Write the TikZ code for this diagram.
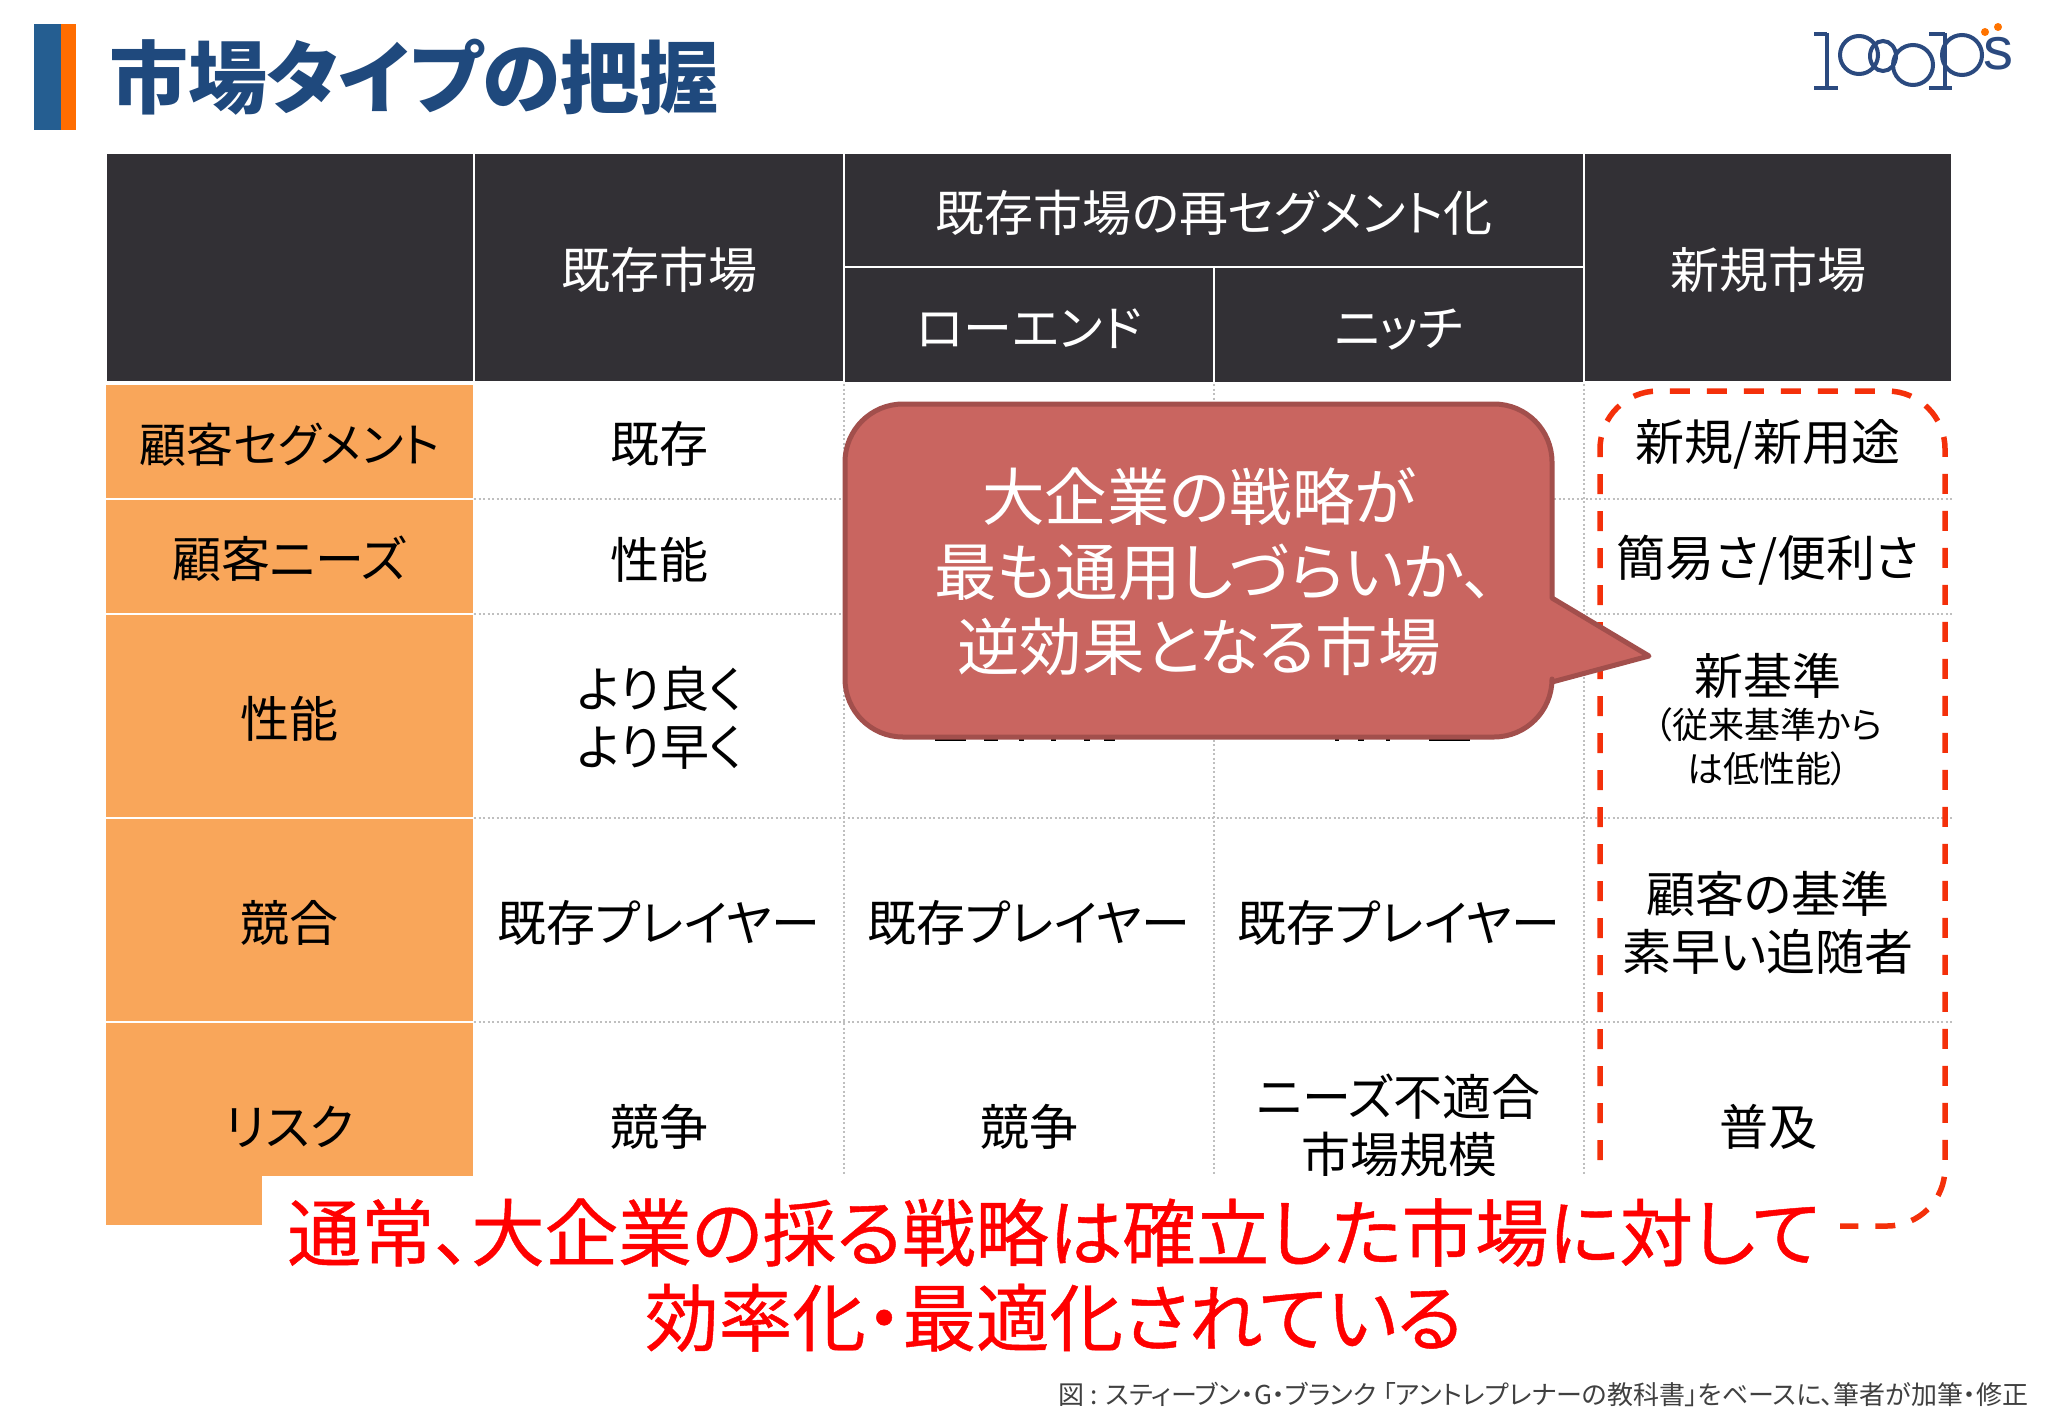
\documentclass[tikz,border=0pt]{standalone}
\usepackage{fontspec}
\setmainfont{Noto Sans CJK JP}[RawFeature=+palt]
\newfontfamily\redfont{Noto Sans CJK JP}[RawFeature=+palt, FakeBold=0.6]
\newfontfamily\logofont{Liberation Sans}
\definecolor{titleblue}{HTML}{1F497D}
\definecolor{barblue}{HTML}{255E91}
\definecolor{barorange}{HTML}{FF6D00}
\definecolor{headdark}{HTML}{323035}
\definecolor{sideorange}{HTML}{F9A65A}
\definecolor{dashred}{HTML}{F4300A}
\definecolor{bubblefill}{HTML}{C96560}
\definecolor{bubbleline}{HTML}{A24F4C}
\definecolor{logoblue}{HTML}{2B4A7F}
\begin{document}
\begin{tikzpicture}[x=1pt, y=-1pt,
    every node/.style = {align=center, inner sep=0pt, outer sep=0pt,
      font=\fontsize{49}{58}\selectfont},
    headcell/.style = {fill=headdark, draw=white, line width=1.5pt,
      text=white, minimum width=#1, text height=49pt, text depth=7pt},
    sidecell/.style = {fill=sideorange, draw=white, line width=1.5pt,
      minimum width=369pt, minimum height=#1, text height=49pt, text depth=7pt},
    gridline/.style = {draw=black!25, line width=1.8pt,
      dash pattern=on 2pt off 2.5pt},
    logoline/.style = {draw=logoblue, line width=4pt}]
  \useasboundingbox (0,0) rectangle (2048,1418);
  \fill[white] (0,0) rectangle (2048,1418);
  % title
  \fill[barblue] (34,24) rectangle (61,130);
  \fill[barorange] (61,24) rectangle (76,130);
  \node[anchor=west, text=titleblue, font=\fontsize{79}{90}\selectfont\bfseries]
    (title) at (109,77) {市場タイプの把握};
  % logo
  \draw[logoline] (1827,33) -- (1827,89) (1814,34) -- (1827,34) (1814,88) -- (1838,88);
  \draw[logoline] (1859,55) circle (19pt);
  \draw[logoline] (1883,56) ellipse (13pt and 15pt);
  \draw[logoline] (1913,65) circle (20pt);
  \draw[logoline] (1945,33) -- (1945,89) (1929,34) -- (1945,34) (1929,88) -- (1952,88);
  \draw[logoline] (1962,55) ellipse (20pt and 20pt);
  \fill[orange!90!red] (1985,32) circle (4pt) (1998,27) circle (4pt);
  \node[text=logoblue, font=\fontsize{60}{60}\logofont] (logos) at (1998,54) {s};
  % header
  \node[headcell=368pt, minimum height=229pt] (headblank) at (290,267.5) {};
  \node[headcell=370pt, minimum height=229pt] (headold) at (659,267.5) {既存市場};
  \node[headcell=740pt, minimum height=114pt] (headseg) at (1214,210) {既存市場の再セグメント化};
  \node[headcell=370pt, minimum height=115pt] (headlow) at (1029,325) {ローエンド};
  \node[headcell=370pt, minimum height=115pt] (headniche) at (1399,325) {ニッチ};
  \node[headcell=368pt, minimum height=229pt] (headnew) at (1768,267.5) {新規市場};
  % rows
  \node[sidecell=115pt, font=\fontsize{47}{58}\selectfont] (sideseg) at (289.5,441.5) {顧客セグメント};
  \node[sidecell=115pt] (sideneed) at (289.5,556.5) {顧客ニーズ};
  \node[sidecell=204pt] (sideperf) at (289.5,716) {性能};
  \node[sidecell=204pt] (sidecomp) at (289.5,920) {競合};
  \node[sidecell=204pt] (siderisk) at (289.5,1124) {リスク};
  \foreach \y in {499,614,818,1022}
    \draw[gridline] (474,\y) -- (1952,\y);
  \foreach \x in {844,1214,1584}
    \draw[gridline] (\x,384) -- (\x,1174);
  \node (oldseg) at (659,444) {既存};
  \node (oldneed) at (659,560) {性能};
  \node (oldperf) at (660,718) {より良く\\より早く};
  \foreach \x/\n in {659/old,1029/low,1399/niche}
    \node (\n comp) at (\x,923) {既存プレイヤー};
  \node (oldrisk) at (659,1127) {競争};
  \node (lowrisk) at (1029,1127) {競争};
  \node (nicherisk) at (1399,1126) {ニーズ不適合\\市場規模};
  \foreach \a/\b in {935/966,984/998,1019/1024,1051/1056,1084/1090,1104/1115,1335/1339,1358/1364,1386/1390,1429/1470}
    \fill[black] (\a,738) rectangle (\b,741);
  \node (newseg) at (1768,444) {新規/新用途};
  \node (newneed) at (1768,560) {簡易さ/便利さ};
  \node (newperf) at (1768,676) {新基準};
  \node[font=\fontsize{36}{44}\selectfont] (newperfsub) at (1768,747) {（従来基準から\\は低性能）};
  \node (newcomp) at (1768,923) {顧客の基準\\素早い追随者};
  \node (newrisk) at (1768,1127) {普及};
  % dashed frame
  \draw[dashred, line width=5.5pt, rounded corners=58pt, dash pattern=on 20pt off 17pt, dash phase=6pt]
    (1600,1228) -- (1600,391) -- (1945,391) -- (1945,1226) -- (1600,1226);
  % callout
  \coordinate (bubbletip) at (1649,656);
  \draw[fill=bubblefill, draw=bubbleline, line width=5pt, line join=round]
    (1552,598) -- (bubbletip) -- (1552,682)
    [rounded corners=58pt] -- (1552,737) -- (845,737) -- (845,404) -- (1552,404)
    [sharp corners] -- (1552,598) -- cycle;
  \node[text=white, font=\fontsize{62.5}{75}\selectfont] (bubbletext) at (1199,572)
    {大企業の戦略が\\\hspace*{30pt}最も通用しづらいか、\\逆効果となる市場};
  % message
  \fill[white] (262,1176) rectangle (1840,1395);
  \node[text=red, font=\fontsize{73.5}{85}\redfont] (message) at (1054,1275)
    {通常、大企業の採る戦略は確立した市場に対して\\効率化・最適化されている};
  \node[anchor=east, text=black!75, font=\fontsize{26}{30}\selectfont] (source) at (2028,1394)
    {図 : スティーブン・G・ブランク 「アントレプレナーの教科書」をベースに、筆者が加筆・修正};
\end{tikzpicture}
\end{document}
